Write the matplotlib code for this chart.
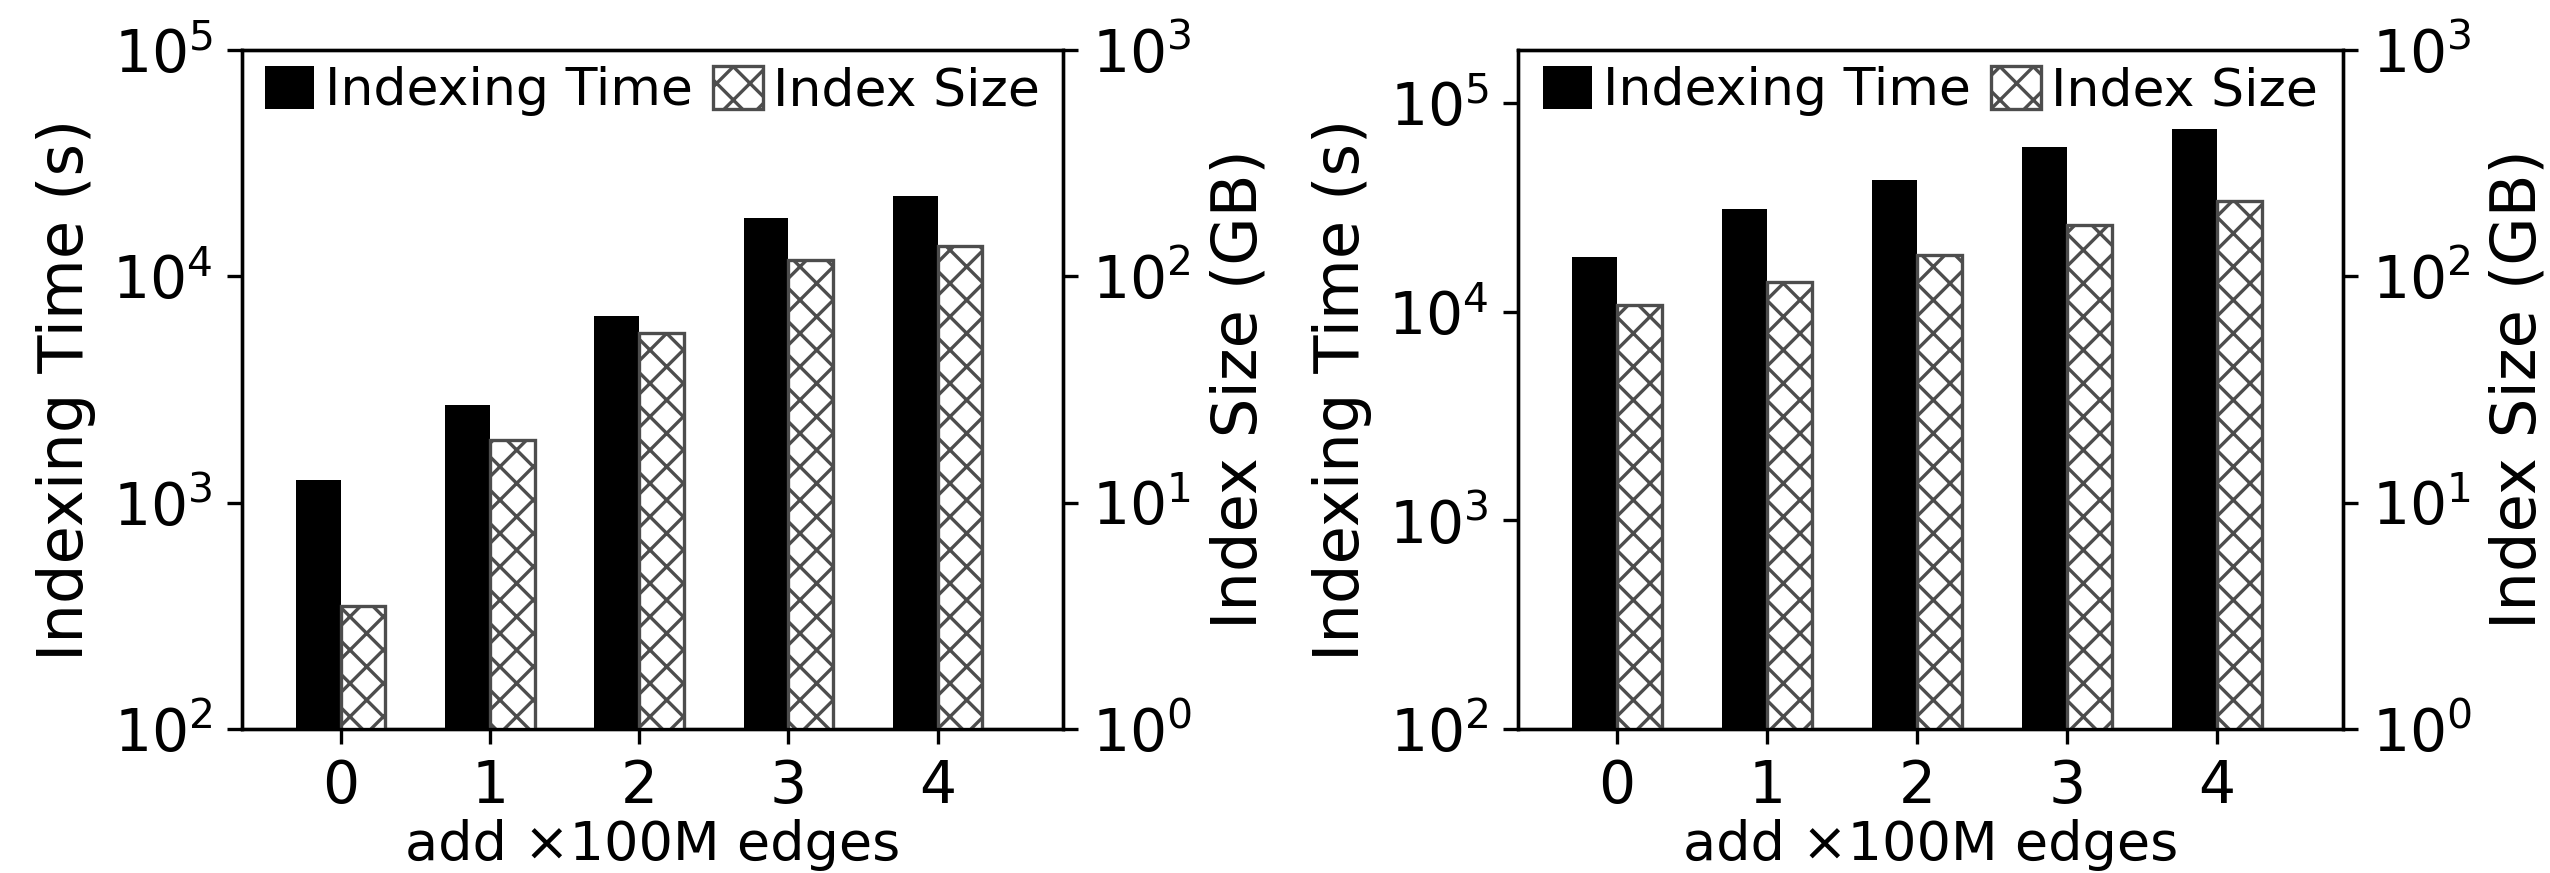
import numpy as np
import matplotlib
matplotlib.use("Agg")
import matplotlib.pyplot as plt
from matplotlib.ticker import NullLocator

# x categories: added edges (x100M)
added_edges = [0, 1, 2, 3, 4]

# left panel
time_left = [1260, 2700, 6700, 18100, 22600]   # indexing time (s)
size_left = [3.5, 19, 56, 118, 136]            # index size (GB)

# right panel
time_right = [18300, 31000, 43000, 61500, 75000]
size_right = [75, 94, 124, 169, 215]

panels = [
    (time_left, size_left, (1e2, 1e5)),
    (time_right, size_right, (1e2, 1.8e5)),
]

plt.rcParams['font.family'] = 'DejaVu Sans'
plt.rcParams['hatch.linewidth'] = 0.8

fig = plt.figure(figsize=(8.5, 2.91), dpi=300)
positions = [[0.0949, 0.1649, 0.3220, 0.7778],
             [0.5953, 0.1649, 0.3235, 0.7778]]

w = 0.3
x = np.arange(len(added_edges))

for pos, (times, sizes, ylim) in zip(positions, panels):
    ax = fig.add_axes(pos)
    ax2 = ax.twinx()

    b1 = ax.bar(x - w / 2, times, w, color='black', label='Indexing Time')
    b2 = ax2.bar(x + w / 2, sizes, w, color='white', edgecolor='#4d4d4d',
                 hatch='xxx', linewidth=0.8, label='Index Size')

    ax.set_yscale('log')
    ax2.set_yscale('log')
    ax.set_ylim(*ylim)
    ax2.set_ylim(1, 1000)
    ax.yaxis.set_minor_locator(NullLocator())
    ax2.yaxis.set_minor_locator(NullLocator())

    ax.set_xlim(-0.66, 4.84)
    ax.set_xticks(x)
    ax.set_xticklabels([str(v) for v in added_edges])

    ax.tick_params(axis='both', labelsize=14)
    ax2.tick_params(axis='y', labelsize=14)

    ax.set_xlabel('add \u00d7100M edges', fontsize=13, labelpad=1)
    ax.set_ylabel('Indexing Time (s)', fontsize=15)
    ax2.set_ylabel('Index Size (GB)', fontsize=15)

    ax2.legend([b1, b2], ['Indexing Time', 'Index Size'], loc='upper center',
               ncol=2, frameon=False, fontsize=12.5, handlelength=0.95,
               handleheight=0.9, handletextpad=0.2, columnspacing=0.4,
               borderaxespad=0.05, borderpad=0.25)

fig.savefig('out.png', dpi=300)
